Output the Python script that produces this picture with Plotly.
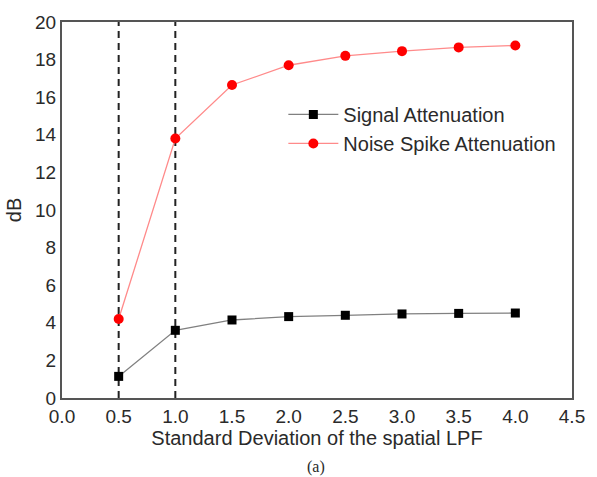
import plotly.graph_objects as go

sigma = [0.5, 1.0, 1.5, 2.0, 2.5, 3.0, 3.5, 4.0]
signal_att = [1.15, 3.6, 4.15, 4.33, 4.4, 4.47, 4.5, 4.52]
noise_att = [4.2, 13.8, 16.65, 17.7, 18.2, 18.45, 18.65, 18.75]
marked_sigma = [0.5, 1.0]
x_ticks = [0.0, 0.5, 1.0, 1.5, 2.0, 2.5, 3.0, 3.5, 4.0, 4.5]
y_ticks = [0, 2, 4, 6, 8, 10, 12, 14, 16, 18, 20]

FONT = "Liberation Sans, Arial, sans-serif"
TXT = "#2a2a2a"

fig = go.Figure()
fig.add_trace(go.Scatter(
    x=sigma, y=signal_att, mode="lines+markers", name="Signal Attenuation",
    line=dict(color="#808080", width=1.3),
    marker=dict(symbol="square", size=9, color="black"),
))
fig.add_trace(go.Scatter(
    x=sigma, y=noise_att, mode="lines+markers", name="Noise Spike Attenuation",
    line=dict(color="#ff8a8a", width=1.3),
    marker=dict(symbol="circle", size=10, color="#ff0000"),
))

for xv in marked_sigma:
    fig.add_shape(type="line", xref="x", yref="y", x0=xv, x1=xv, y0=0, y1=20,
                  line=dict(color="#222222", width=2, dash="7px,5px"), layer="below")

fig.add_annotation(text="(a)", xref="paper", yref="paper", x=0.499, y=-0.183,
                   xanchor="center", yanchor="middle", showarrow=False,
                   font=dict(family="Liberation Serif, Times New Roman, serif", size=16, color=TXT))

fig.update_layout(
    width=597, height=477,
    margin=dict(l=62, r=14, t=16, b=79),
    plot_bgcolor="white", paper_bgcolor="white",
    font=dict(family=FONT, size=19, color=TXT),
    showlegend=True,
    legend=dict(x=0.434, y=0.806, xanchor="left", yanchor="top",
                bgcolor="rgba(0,0,0,0)", font=dict(family=FONT, size=20, color=TXT),
                tracegroupgap=0, itemwidth=50),
    xaxis=dict(range=[0, 4.5], tickvals=x_ticks, ticktext=[f"{v:.1f}" for v in x_ticks],
               showgrid=False, zeroline=False, showline=True, linecolor="#555555", linewidth=2,
               mirror=True, ticks="", ticklen=0,
               title=dict(text="Standard Deviation of the spatial LPF", standoff=4,
                          font=dict(family=FONT, size=20, color=TXT))),
    yaxis=dict(range=[0, 20], tickvals=y_ticks, showgrid=False, zeroline=False,
               showline=True, linecolor="#555555", linewidth=2, mirror=True, ticks="", ticklen=0,
               title=dict(text="dB", standoff=8, font=dict(family=FONT, size=20, color=TXT))),
)

fig.write_html("out.html")
